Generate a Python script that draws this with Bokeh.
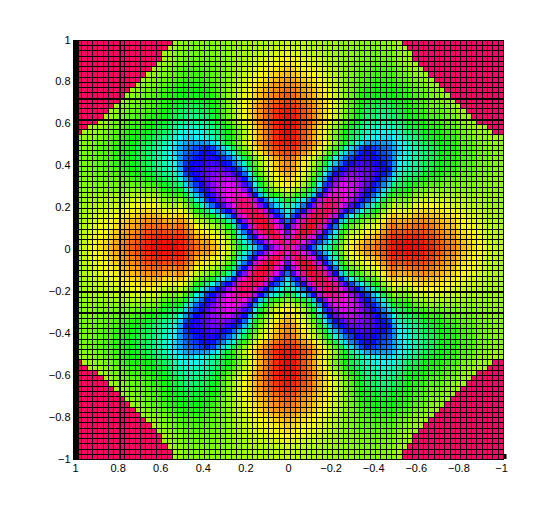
import colorsys
from bokeh.embed import file_html
from bokeh.resources import INLINE
from bokeh.plotting import figure
from bokeh.models import ColumnDataSource, LinearColorMapper, FixedTicker

# Hue (degrees), upper-left quadrant, row r / column c >= r.
# The picture is symmetric, the rest is mirrored from these rows.
PINK = 336
row00 = [PINK]*18 + [82,86,90,90,90,90,90,89,88,87,86,85,84,83,82,81,80,79,78,77,76,75]
row01 = [PINK]*16 + [80,84,88,90,92,92,92,92,91,90,89,88,86,85,83,82,81,79,78,76,75,73,72,71]
row02 = [PINK]*14 + [82,85,88,90,94,94,94,94,93,92,90,89,87,85,83,81,79,77,75,73,71,69,67,65]
row03 = [PINK]*13 + [82,85,88,92,97,97,97,96,95,93,92,90,88,85,82,79,76,73,71,68,66,64,61,59]
row04 = [PINK]*11 + [82,85,88,92,96,100,100,100,99,98,96,94,91,88,85,81,77,73,70,67,64,62,59,56,54]
row05 = [PINK]*9 + [82,85,88,92,96,100,103,103,103,102,100,98,95,92,89,85,80,75,71,67,64,61,58,55,52,49]
row06 = [PINK]*7 + [82,85,89,92,96,100,103,106,106,106,105,103,100,96,92,89,84,79,74,69,65,61,58,54,50,47,43]
row07 = [PINK]*5 + [83,86,90,93,97,101,104,108,110,110,110,109,106,102,97,93,89,83,77,71,66,61,57,53,49,45,41,37]
row08 = [PINK]*3 + [84,87,90,94,98,102,106,110,113,115,115,115,113,110,105,99,94,88,82,76,70,63,57,51,46,41,37,34,31]
row09 = [PINK] + [85,88,91,95,99,103,107,111,115,118,120,120,120,118,115,109,102,95,88,81,74,67,60,54,48,43,38,34,30,26]
row10 = [88,91,94,98,102,106,110,114,118,122,125,125,125,123,120,114,106,97,88,80,72,64,57,51,45,39,34,30,25,21]
row11 = [93,96,100,104,108,112,117,122,127,132,132,131,128,125,118,110,100,88,79,70,62,55,48,42,36,30,25,20,16]
row12 = [98,102,106,110,114,120,126,133,140,140,138,135,130,122,112,102,90,80,70,61,52,44,36,28,22,16,12,9]
row13 = [106,110,114,118,124,132,140,146,146,144,140,137,128,116,104,92,81,71,61,52,44,35,27,19,13,9,6]
row14 = [114,118,122,130,138,146,152,152,150,147,145,134,122,108,95,83,72,62,52,43,34,25,17,10,5,2]
row15 = [122,128,136,146,154,160,160,158,155,152,143,130,115,102,90,78,66,54,44,33,24,15,8,3,1]
row16 = [134,144,154,162,168,168,166,163,158,150,140,128,115,102,90,77,64,52,40,29,18,10,4,0]
row17 = [150,162,172,178,178,176,172,166,157,146,134,120,106,93,79,65,53,41,30,19,10,4,0]
row18 = [170,180,188,188,183,178,172,163,152,140,125,110,95,80,66,54,42,31,20,11,5,1]
row19 = [192,200,202,205,205,200,190,172,150,128,108,90,74,60,47,36,26,17,10,6,5]
row20 = [212,216,222,228,235,225,205,190,165,135,108,88,72,56,44,34,25,17,12,10]
row21 = [222,228,238,245,235,222,208,190,165,135,108,88,70,56,45,36,27,21,17,15]
row21 = row21[:19]
row22 = [235,245,250,248,240,228,215,195,170,140,112,90,74,62,50,40,31,25]
row23 = [250,256,258,254,246,234,216,195,165,130,102,82,69,57,47,39,33]
row24 = [262,265,266,262,252,238,225,195,150,112,88,72,60,48,38,32]
row25 = [270,274,274,268,256,245,215,175,130,98,80,68,58,48,42]
row26 = [280,284,285,276,265,238,200,155,110,88,74,64,55,48]
row27 = [290,294,292,280,258,225,180,130,100,82,70,62,56]
row28 = [298,304,298,278,245,205,155,120,100,85,76,70]
row29 = [310,316,305,272,235,195,150,128,112,100,92]
row30 = [322,330,322,285,245,212,185,162,145,125]
row31 = [332,334,315,272,238,212,190,170,150]
row32 = [335,338,325,285,250,225,198,170]
row33 = [340,342,325,285,250,222,190]
row34 = [346,345,325,290,255,215]
row35 = [352,344,315,280,240]
row36 = [354,332,300,265]
row37 = [342,320,285]
row38 = [336,310]
row39 = [328]
hue_rows = [row00,row01,row02,row03,row04,row05,row06,row07,row08,row09,
            row10,row11,row12,row13,row14,row15,row16,row17,row18,row19,
            row20,row21,row22,row23,row24,row25,row26,row27,row28,row29,
            row30,row31,row32,row33,row34,row35,row36,row37,row38,row39]

x_ticks = [1, 0.8, 0.6, 0.4, 0.2, 0, -0.2, -0.4, -0.6, -0.8, -1]
y_ticks = [1, 0.8, 0.6, 0.4, 0.2, 0, -0.2, -0.4, -0.6, -0.8, -1]
tick_text = {1: "1", 0.8: "0.8", 0.6: "0.6", 0.4: "0.4", 0.2: "0.2", 0: "0",
             -0.2: "\u22120.2", -0.4: "\u22120.4", -0.6: "\u22120.6", -0.8: "\u22120.8", -1: "\u22121"}
n = 80
heavy_x_cells = [8]                 # x = 0.8
heavy_y_cells = [11, 15, 48, 52]    # y = 0.725, 0.625, -0.2, -0.3
XS = 213.0   # px per data unit
YS = 209.5
PX = 5.3375  # mesh pitch on screen
PY = 5.2375


def dx(px):
    return 1 - px / XS


def dy(px):
    return 1 - px / YS


def ex(j):
    # mesh lines fall on whole screen pixels, so that they stay sharp
    return round(PX * j)


def ey(i):
    return round(PY * i)


def hue_at(r, c):
    a, b = min(r, c), max(r, c)
    return hue_rows[a][b - a]


def fold(i):
    return max(0, 39 - abs(i - 39))


left, right, top, bottom, z = [], [], [], [], []
for i in range(n):
    for j in range(n):
        left.append(dx(ex(j) + 1))
        right.append(dx(ex(j + 1)))
        top.append(dy(ey(i) + 1))
        bottom.append(dy(ey(i + 1)))
        z.append(hue_at(fold(i), fold(j)))

palette = []
for h in range(360):
    cr, cg, cb = colorsys.hsv_to_rgb(h / 360, 1, 1)
    palette.append("#%02x%02x%02x" % (round(cr * 255), round(cg * 255), round(cb * 255)))
mapper = LinearColorMapper(palette=palette, low=0, high=360)

p = figure(width=551, height=495, output_backend="svg", toolbar_location=None,
           x_range=(1 + 3 / XS, 1 - 431 / XS), y_range=(-1 - 2 / YS, 1 + 2 / YS),
           min_border_left=72, min_border_right=45, min_border_top=37, min_border_bottom=35,
           background_fill_color="white", border_fill_color="white", outline_line_color=None)
p.styles = {"shape-rendering": "crispEdges"}
p.grid.visible = False

# black sheet below the cells: what stays visible between them is the mesh
p.quad(left=[dx(ex(0))], right=[dx(ex(n) + 1)], top=[dy(ey(0))], bottom=[dy(ey(n) + 1)],
       fill_color="black", line_color=None)
src = ColumnDataSource(dict(left=left, right=right, top=top, bottom=bottom, z=z))
p.quad(left="left", right="right", top="top", bottom="bottom", source=src,
       fill_color={"field": "z", "transform": mapper}, line_color=None)

# heavier mesh lines
for j in heavy_x_cells:
    p.quad(left=[dx(ex(j))], right=[dx(ex(j) + 2)], top=[dy(ey(0))], bottom=[dy(ey(n) + 1)],
           fill_color="black", line_color=None)
for i in heavy_y_cells:
    p.quad(left=[dx(ex(0))], right=[dx(ex(n) + 1)], top=[dy(ey(i))], bottom=[dy(ey(i) + 2)],
           fill_color="black", line_color=None)
p.quad(left=[dx(-3)], right=[dx(3)], top=[dy(ey(0))], bottom=[dy(ey(n) + 1)],
       fill_color="black", line_color=None)
p.quad(left=[dx(428)], right=[dx(431)], top=[dy(414)], bottom=[dy(419)],
       fill_color="black", line_color=None)

for ax, ticks in ((p.xaxis[0], x_ticks), (p.yaxis[0], y_ticks)):
    ax.ticker = FixedTicker(ticks=ticks)
    ax.major_label_overrides = {t: tick_text[t] for t in ticks}
    ax.axis_line_color = None
    ax.major_tick_line_color = None
    ax.minor_tick_line_color = None
    ax.major_label_text_font = "Liberation Sans"
    ax.major_label_text_font_size = "11px"
    ax.major_label_text_color = "black"
    ax.major_tick_in = 0
    ax.major_tick_out = 0
p.xaxis[0].major_label_standoff = 3
p.yaxis[0].major_label_standoff = 2

open("out.html", "w").write(file_html(p, INLINE))
